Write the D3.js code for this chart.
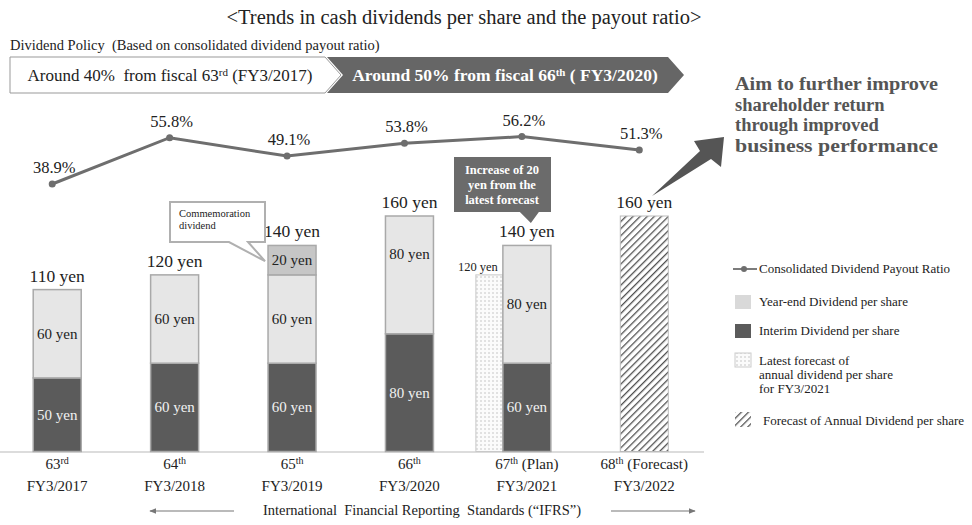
<!DOCTYPE html>
<html>
<head>
<meta charset="utf-8">
<script src="https://cdn.jsdelivr.net/npm/d3@7"></script>
<style>
  body { margin:0; background:#fff; }
  svg { display:block; font-family:"Liberation Serif","Times New Roman",serif; }
  text { white-space: pre; }
</style>
</head>
<body>
<svg id="chart" width="972" height="525"></svg>
<script>
// data
var fiscalNum = ["63","64","65","66","67","68"];
var fiscalSup = ["rd","th","th","th","th","th"];
var fiscalNote = ["","","","","(Plan)","(Forecast)"];
var fyLabels = ["FY3/2017","FY3/2018","FY3/2019","FY3/2020","FY3/2021","FY3/2022"];
var interim = [50,60,60,80,60,0];
var yearEnd = [60,60,60,80,80,0];
var commemoration = [0,0,20,0,0,0];
var forecastAnnual = [0,0,0,0,0,160];
var latestForecast = [0,0,0,0,120,0];
var totals = [110,120,140,160,140,160];
var payout = [38.9,55.8,49.1,53.8,56.2,51.3];

var dark = "#5b5b5b", light = "#e6e6e6", mid = "#c6c6c6", edge = "#a9a9a9", ink = "#222";

var svg = d3.select("#chart");
svg.append("rect").attr("width",972).attr("height",525).attr("fill","#fff");

var defs = svg.append("defs");
var hatch = defs.append("pattern").attr("id","hatch").attr("patternUnits","userSpaceOnUse")
  .attr("width",5).attr("height",5).attr("patternTransform","rotate(45)");
hatch.append("rect").attr("width",5).attr("height",5).attr("fill","#fff");
hatch.append("line").attr("x1",0).attr("y1",0).attr("x2",0).attr("y2",5)
  .attr("stroke","#505050").attr("stroke-width",2.6);
var dots = defs.append("pattern").attr("id","dots").attr("patternUnits","userSpaceOnUse")
  .attr("width",4).attr("height",4);
dots.append("rect").attr("width",4).attr("height",4).attr("fill","#fbfbfb");
dots.append("circle").attr("cx",1).attr("cy",1).attr("r",0.7).attr("fill","#b5b5b5");

// scales
var x = d3.scaleBand().domain(fyLabels).range([-1.5,703]).padding(0);
var cx = function(i){ return x(fyLabels[i]) + x.bandwidth()/2; };
var y = d3.scaleLinear().domain([0,160]).range([451.5,216]);
var yp = d3.scaleLinear().domain([30,60]).range([208.4,126.2]);
var bw = 48;

// title + policy banner
svg.append("text").attr("x",464).attr("y",24).attr("text-anchor","middle")
  .attr("font-size",20.5).attr("fill",ink).text("<Trends in cash dividends per share and the payout ratio>");
svg.append("text").attr("x",10).attr("y",50).attr("font-size",14.5).attr("fill",ink)
  .text("Dividend Policy  (Based on consolidated dividend payout ratio)");
svg.append("path").attr("d","M10,57H325L341,75L325,93H10Z").attr("fill","#fff").attr("stroke","#999").attr("stroke-width",1);
svg.append("path").attr("d","M327,57H668L684,75L668,93H327L343,75Z").attr("fill","#666");
var b1 = svg.append("text").attr("x",170).attr("y",81).attr("text-anchor","middle").attr("font-size",17).attr("fill",ink);
b1.append("tspan").text("Around 40%  from fiscal 63");
b1.append("tspan").attr("font-size",11).attr("dy",-5).text("rd");
b1.append("tspan").attr("dy",5).text(" (FY3/2017)");
var b2 = svg.append("text").attr("x",505).attr("y",81).attr("text-anchor","middle").attr("font-size",17.5)
  .attr("font-weight","bold").attr("fill","#fff");
b2.append("tspan").text("Around 50% from fiscal 66");
b2.append("tspan").attr("font-size",11).attr("dy",-5).text("th");
b2.append("tspan").attr("dy",5).text(" ( FY3/2020)");

// baseline
svg.append("line").attr("x1",0).attr("x2",704).attr("y1",452).attr("y2",452)
  .attr("stroke","#d0d0d0").attr("stroke-width",1.5);

// latest forecast (dotted) bar, behind the plan bar
latestForecast.forEach(function(v,i){
  if(!v) return;
  svg.append("rect").attr("x",cx(i)-bw/2-27).attr("y",y(v)).attr("width",27).attr("height",y(0)-y(v))
    .attr("fill","url(#dots)").attr("stroke","#c8c8c8").attr("stroke-width",1);
  svg.append("text").attr("x",cx(i)-bw/2-25).attr("y",y(v)-4).attr("text-anchor","middle")
    .attr("font-size",12.5).attr("fill",ink).text(v+" yen");
});

// stacked bars
var g = svg.append("g");
fyLabels.forEach(function(f,i){
  var x0 = cx(i)-bw/2;
  if(interim[i]){
    g.append("rect").attr("x",x0).attr("y",y(interim[i])).attr("width",bw).attr("height",y(0)-y(interim[i]))
      .attr("fill",dark).attr("stroke",edge).attr("stroke-width",1.5);
    g.append("text").attr("x",cx(i)).attr("y",(y(0)+y(interim[i]))/2+5).attr("text-anchor","middle")
      .attr("font-size",15).attr("fill","#f2f2f2").text(interim[i]+" yen");
  }
  if(yearEnd[i]){
    var a = interim[i], b = interim[i]+yearEnd[i];
    g.append("rect").attr("x",x0).attr("y",y(b)).attr("width",bw).attr("height",y(a)-y(b))
      .attr("fill",light).attr("stroke",edge).attr("stroke-width",1.5);
    // 66th label sits in the upper part of its segment
    var ly = i==3 ? y(b)+(y(a)-y(b))*0.32 : (y(a)+y(b))/2;
    g.append("text").attr("x",cx(i)).attr("y",ly+5).attr("text-anchor","middle")
      .attr("font-size",15).attr("fill",ink).text(yearEnd[i]+" yen");
  }
  if(commemoration[i]){
    var a2 = interim[i]+yearEnd[i], b2v = a2+commemoration[i];
    g.append("rect").attr("x",x0).attr("y",y(b2v)).attr("width",bw).attr("height",y(a2)-y(b2v))
      .attr("fill",mid).attr("stroke",edge).attr("stroke-width",1.5);
    g.append("text").attr("x",cx(i)).attr("y",(y(a2)+y(b2v))/2+5).attr("text-anchor","middle")
      .attr("font-size",15).attr("fill",ink).text(commemoration[i]+" yen");
  }
  if(forecastAnnual[i]){
    g.append("rect").attr("x",x0).attr("y",y(forecastAnnual[i])).attr("width",bw).attr("height",y(0)-y(forecastAnnual[i]))
      .attr("fill","url(#hatch)").attr("stroke","#bbb").attr("stroke-width",1);
  }
  g.append("text").attr("x",cx(i)).attr("y",y(totals[i])-8).attr("text-anchor","middle")
    .attr("font-size",17.5).attr("fill",ink).text(totals[i]+" yen");
});

// payout ratio line
var px = function(i){ return cx(i)-5; };
svg.append("path").datum(payout)
  .attr("d",d3.line().x(function(d,i){return px(i);}).y(function(d){return yp(d);}))
  .attr("fill","none").attr("stroke","#6e6e6e").attr("stroke-width",3);
svg.selectAll(".pt").data(payout).enter().append("circle")
  .attr("cx",function(d,i){return px(i);}).attr("cy",function(d){return yp(d);}).attr("r",3.5).attr("fill","#6e6e6e");
svg.selectAll(".pl").data(payout).enter().append("text")
  .attr("x",function(d,i){return px(i)+2;}).attr("y",function(d){return yp(d)-11;})
  .attr("text-anchor","middle").attr("font-size",16.5).attr("fill",ink)
  .text(function(d){return d.toFixed(1)+"%";});

// callouts
var c3x = cx(2)-bw/2, c3y = y(130);
svg.append("path").attr("d","M170,202H265V242H248L"+(c3x-3)+","+(c3y+1)+"L229,242H170Z")
  .attr("fill","#fff").attr("stroke","#b0b0b0").attr("stroke-width",2);
svg.append("text").attr("x",179).attr("y",217).attr("font-size",10.5).attr("fill",ink).text("Commemoration");
svg.append("text").attr("x",179).attr("y",229).attr("font-size",10.5).attr("fill",ink).text("dividend");

var c5 = cx(4);
svg.append("path").attr("d","M454,157H551V212H"+(c5+12)+"L"+(c5+4)+",223L"+(c5-7)+",212H454Z").attr("fill","#6b6b6b");
["Increase of 20","yen from the","latest forecast"].forEach(function(t,k){
  svg.append("text").attr("x",502).attr("y",174+k*15).attr("text-anchor","middle")
    .attr("font-size",12.5).attr("font-weight","bold").attr("fill","#fff").text(t);
});

// big arrow
svg.append("path").attr("d","M652,196L700,151L694,141L724,137L721,167L711,159Z").attr("fill","#555");

// message
["Aim to further improve","shareholder return","through improved","business performance"].forEach(function(t,k){
  svg.append("text").attr("x",735).attr("y",90+k*20.5).attr("font-size",18.5).attr("font-weight","bold")
    .attr("fill","#555").attr("textLength",t.length>19?203:null).attr("lengthAdjust","spacingAndGlyphs").text(t);
});

// legend
var lg = svg.append("g").attr("font-size",13).attr("fill",ink);
lg.append("line").attr("x1",733).attr("x2",757).attr("y1",269).attr("y2",269).attr("stroke","#6e6e6e").attr("stroke-width",1.8);
lg.append("circle").attr("cx",744).attr("cy",269).attr("r",3).attr("fill","#6e6e6e");
lg.append("text").attr("x",759).attr("y",273).text("Consolidated Dividend Payout Ratio");
lg.append("rect").attr("x",735).attr("y",295).attr("width",16).attr("height",14).attr("fill","#d9d9d9");
lg.append("text").attr("x",759).attr("y",306).text("Year-end Dividend per share");
lg.append("rect").attr("x",735).attr("y",324).attr("width",16).attr("height",14).attr("fill",dark);
lg.append("text").attr("x",759).attr("y",335).text("Interim Dividend per share");
lg.append("rect").attr("x",735).attr("y",353).attr("width",16).attr("height",14).attr("fill","url(#dots)").attr("stroke","#ccc");
["Latest forecast of","annual dividend per share","for FY3/2021"].forEach(function(t,k){
  lg.append("text").attr("x",759).attr("y",365+k*14).text(t);
});
lg.append("rect").attr("x",735).attr("y",412).attr("width",16).attr("height",15).attr("fill","url(#hatch)");
lg.append("text").attr("x",763).attr("y",425).text("Forecast of Annual Dividend per share");

// category labels
fyLabels.forEach(function(f,i){
  var t = svg.append("text").attr("x",cx(i)).attr("y",469).attr("text-anchor","middle").attr("font-size",15).attr("fill",ink);
  t.append("tspan").text(fiscalNum[i]);
  t.append("tspan").attr("font-size",10).attr("dy",-5).text(fiscalSup[i]);
  if(fiscalNote[i]) t.append("tspan").attr("dy",5).text(" "+fiscalNote[i]);
  svg.append("text").attr("x",cx(i)).attr("y",491).attr("text-anchor","middle").attr("font-size",15).attr("fill",ink).text(f);
});

// IFRS span
svg.append("text").attr("x",422).attr("y",515).attr("text-anchor","middle").attr("font-size",14.5).attr("fill",ink)
  .text("International  Financial Reporting  Standards (\u201CIFRS\u201D)");
defs.append("marker").attr("id","ah").attr("viewBox","0 0 10 10").attr("refX",9).attr("refY",5)
  .attr("markerWidth",6).attr("markerHeight",6).attr("orient","auto-start-reverse")
  .append("path").attr("d","M0,1L10,5L0,9Z").attr("fill","#777");
svg.append("line").attr("x1",234).attr("x2",150).attr("y1",511).attr("y2",511).attr("stroke","#777").attr("stroke-width",1.2).attr("marker-end","url(#ah)");
svg.append("line").attr("x1",611).attr("x2",695).attr("y1",511).attr("y2",511).attr("stroke","#777").attr("stroke-width",1.2).attr("marker-end","url(#ah)");
</script>
</body>
</html>
